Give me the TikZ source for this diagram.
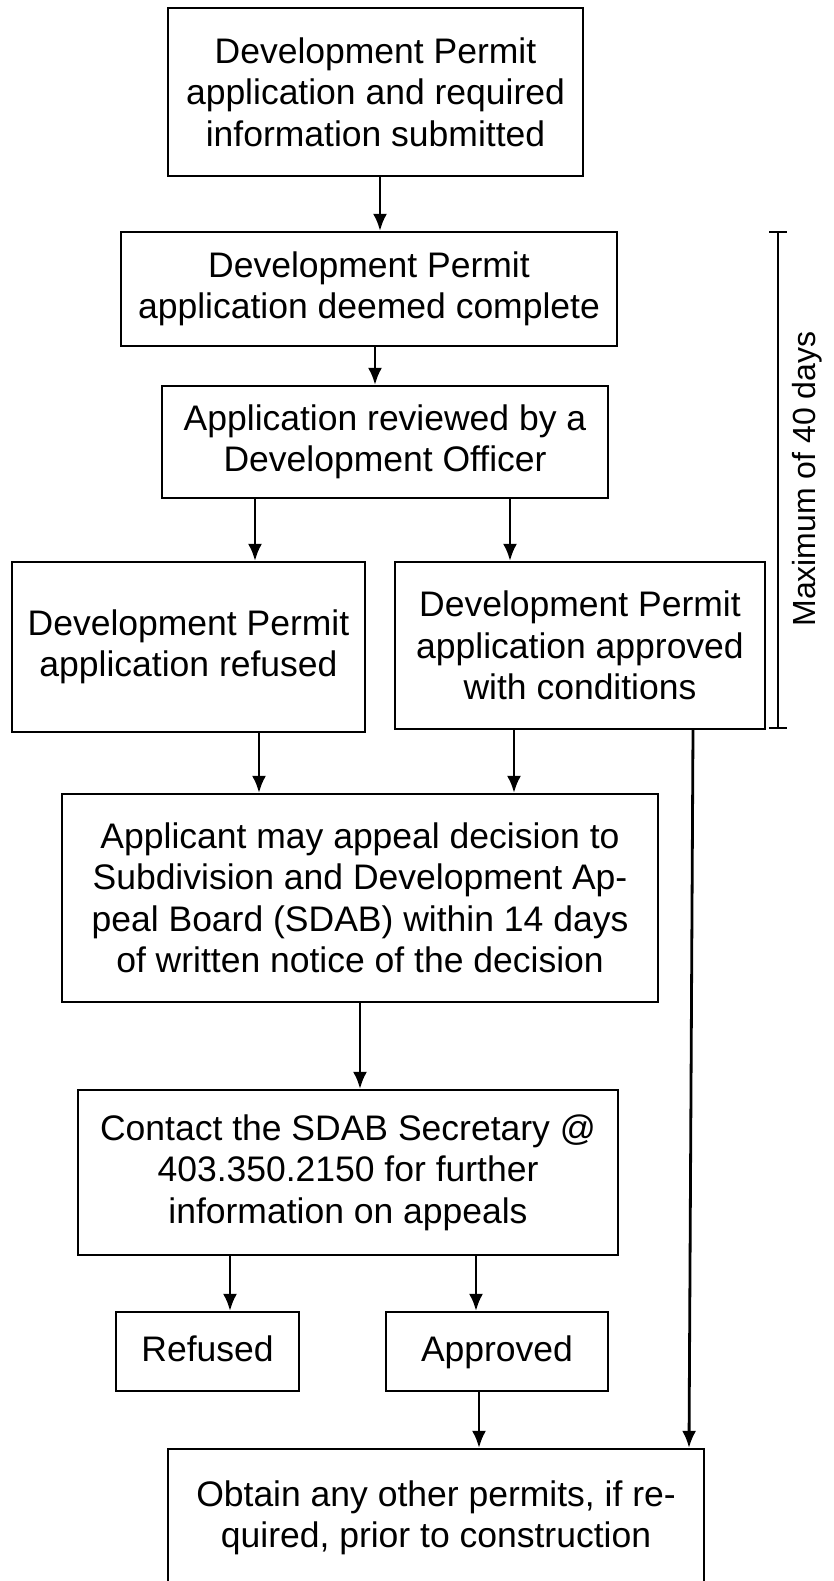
\documentclass[tikz,border=0pt]{standalone}
\usepackage{fontspec}
\setmainfont{Liberation Sans}
\usetikzlibrary{arrows.meta}

\begin{document}
\begin{tikzpicture}[x=1pt,y=-1pt,line width=2.2pt,
    stepbox/.style={draw,inner sep=0pt,align=center,
      font=\fontsize{35.5}{41.5}\selectfont},
    flow/.style={-{Latex[length=17pt,width=14pt]},line width=2.8pt}]
        \useasboundingbox (0,0) rectangle (833,1581);
        \node[stepbox,minimum width=415pt,minimum height=168pt] (submit) at (375.5,92) {Development Permit\\application and required\\information submitted};
        \node[stepbox,minimum width=496pt,minimum height=114pt] (complete) at (369,289) {Development Permit\\application deemed complete};
        \node[stepbox,minimum width=446pt,minimum height=112pt] (review) at (385,442) {Application reviewed by a\\Development Officer};
        \node[stepbox,minimum width=353pt,minimum height=170pt] (refused) at (188.5,647) {Development Permit\\application refused};
        \node[stepbox,minimum width=370pt,minimum height=167pt] (conditions) at (580,645.5) {Development Permit\\application approved\\with conditions};
        \node[stepbox,minimum width=596pt,minimum height=208pt] (appeal) at (360,898) {Applicant may appeal decision to\\Subdivision and Development Ap-\\peal Board (SDAB) within 14 days\\of written notice of the decision};
        \node[stepbox,minimum width=540pt,minimum height=165pt] (sdab) at (348,1172.5) {Contact the SDAB Secretary @\\403.350.2150 for further\\information on appeals};
        \node[stepbox,minimum width=183pt,minimum height=79pt,text height=26pt,text depth=7pt] (no) at (207.5,1351.5) {Refused};
        \node[stepbox,minimum width=222pt,minimum height=79pt,text height=26pt,text depth=7pt] (yes) at (497,1351.5) {Approved};
        \node[stepbox,minimum width=536pt,minimum height=138pt] (permits) at (436,1518) {Obtain any other permits, if re-\\quired, prior to construction};
        \draw[flow] (submit.south -| 380,0) -- (complete.north -| 380,0);
        \draw[flow] (complete.south -| 375,0) -- (review.north -| 375,0);
        \draw[flow] (review.south -| 255,0) -- (refused.north -| 255,0);
        \draw[flow] (review.south -| 510,0) -- (conditions.north -| 510,0);
        \draw[flow] (refused.south -| 259,0) -- (appeal.north -| 259,0);
        \draw[flow] (conditions.south -| 514,0) -- (appeal.north -| 514,0);
        \draw[flow] (appeal.south -| 360,0) -- (sdab.north -| 360,0);
        \draw[flow] (sdab.south -| 230,0) -- (no.north -| 230,0);
        \draw[flow] (sdab.south -| 476,0) -- (yes.north -| 476,0);
        \draw[flow] (yes.south -| 479,0) -- (permits.north -| 479,0);
        \draw[flow] (conditions.south -| 693,0) -- (permits.north -| 689,0);
        % time limit bracket
        \coordinate (top) at (778,232);
        \coordinate (bot) at (778,728);
        \draw (top) -- (bot);
        \draw ([xshift=-9pt]top) -- ([xshift=9pt]top);
        \draw ([xshift=-9pt]bot) -- ([xshift=9pt]bot);
        \node[rotate=90,font=\fontsize{32}{36}\selectfont] (limit) at (807,479) {Maximum of 40 days};
\end{tikzpicture}
\end{document}
